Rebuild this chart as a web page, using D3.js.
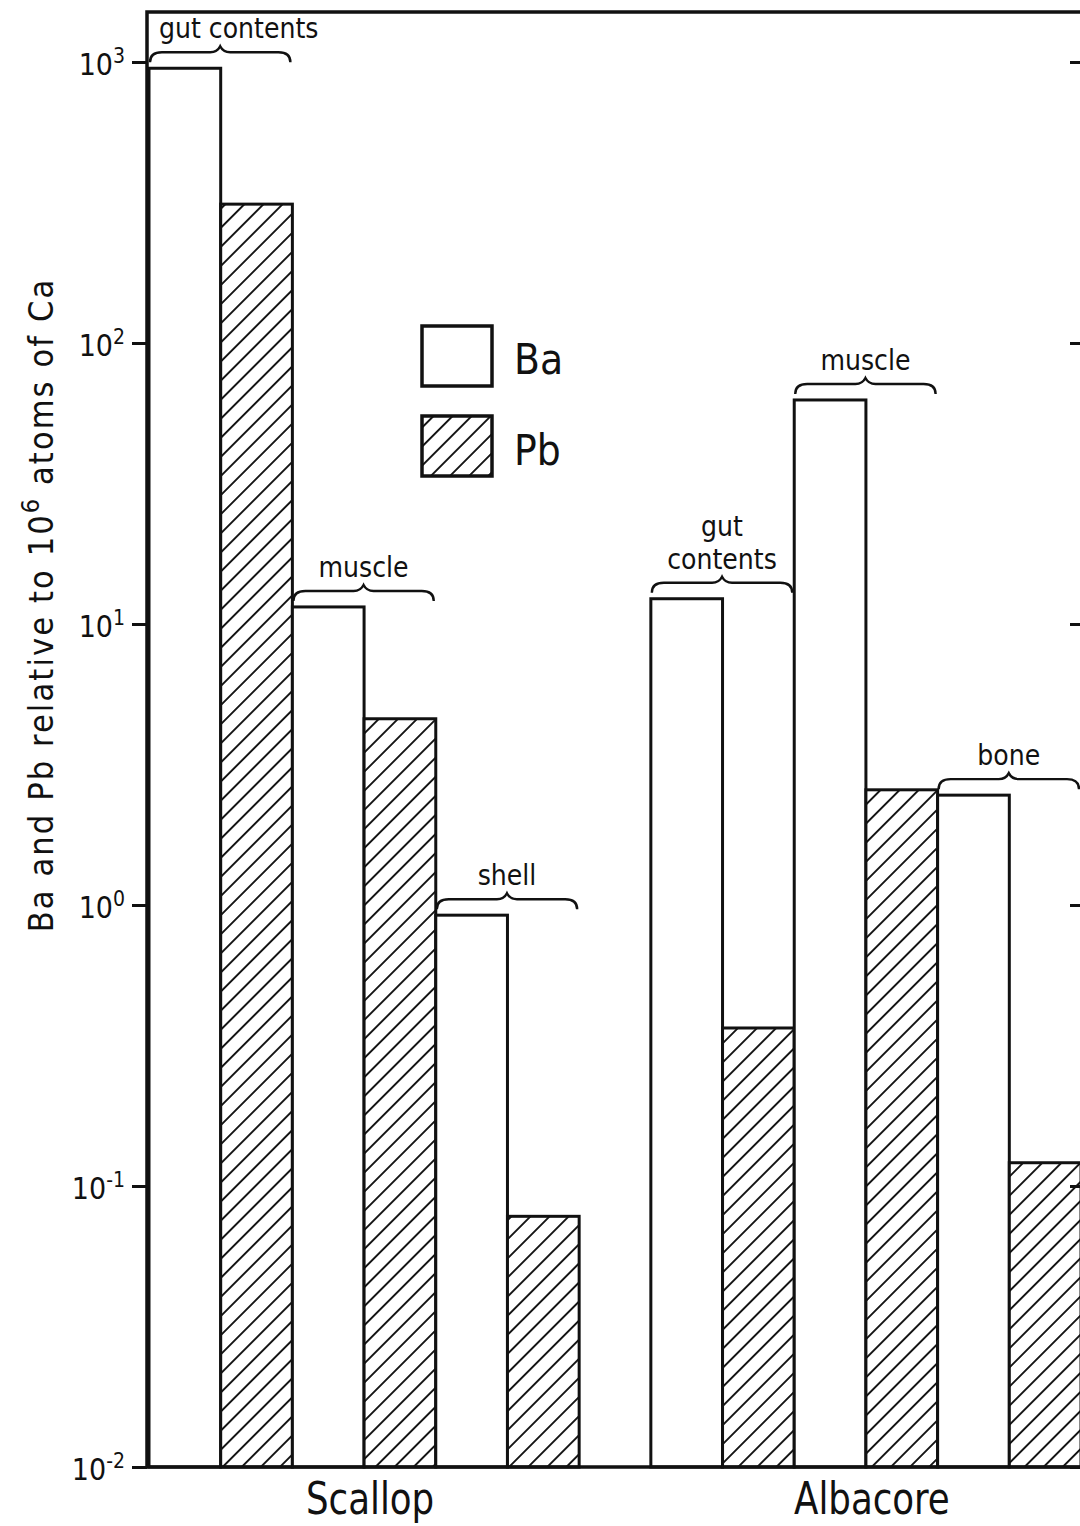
<!DOCTYPE html>
<html>
<head>
<meta charset="utf-8">
<script src="https://cdn.jsdelivr.net/npm/d3@7"></script>
<style>
  body { margin: 0; background: #fff; }
  text { font-family: "DejaVu Sans Condensed", "Liberation Sans Narrow", sans-serif; fill: #111; }
</style>
</head>
<body>
<div id="chart"></div>
<script>
const species = ['Scallop', 'Albacore'];
const tissueLabels = [
  [['gut contents'], ['muscle'], ['shell']],
  [['gut', 'contents'], ['muscle'], ['bone']]
];
const elements = ['Ba', 'Pb'];
const baValues = [[950, 11.5, 0.92], [12.3, 62.7, 2.46]];
const pbValues = [[312, 4.6, 0.078], [0.365, 2.57, 0.121]];
const yTicks = [1e-2, 1e-1, 1, 10, 100, 1000];
const yExponents = ['-2', '-1', '0', '1', '2', '3'];

const width = 1080;
const height = 1526;
const plotLeft = 147;
const plotRight = 1084;
const plotTop = 12;
const plotBottom = 1467;

const svg = d3.select('#chart').append('svg')
  .attr('width', width)
  .attr('height', height)
  .attr('viewBox', `0 0 ${width} ${height}`);

const defs = svg.append('defs');
const hatch = defs.append('pattern')
  .attr('id', 'hatch')
  .attr('patternUnits', 'userSpaceOnUse')
  .attr('width', 13.5)
  .attr('height', 13.5)
  .attr('patternTransform', 'rotate(45)');
hatch.append('rect').attr('width', 13.5).attr('height', 13.5).attr('fill', '#fff');
hatch.append('line')
  .attr('x1', 6.75).attr('y1', 0).attr('x2', 6.75).attr('y2', 13.5)
  .attr('stroke', '#111').attr('stroke-width', 1.9);

const x0 = d3.scaleBand().domain(species).range([149, 1081]).paddingInner(1 / 7).paddingOuter(0);
const x1 = d3.scaleBand().domain([0, 1, 2]).range([0, x0.bandwidth()]);
const x2 = d3.scaleBand().domain(elements).range([0, x1.bandwidth()]);
const y = d3.scaleLog().domain([0.01, 1000]).range([plotBottom, 62]);

const rows = [];
species.forEach((s, i) => {
  [0, 1, 2].forEach((j) => {
    rows.push({ s, j, e: 'Ba', v: baValues[i][j] });
    rows.push({ s, j, e: 'Pb', v: pbValues[i][j] });
  });
});

// bars
svg.append('g').selectAll('rect')
  .data(rows)
  .join('rect')
  .attr('x', (d) => x0(d.s) + x1(d.j) + x2(d.e))
  .attr('y', (d) => y(d.v))
  .attr('width', x2.bandwidth())
  .attr('height', (d) => plotBottom - y(d.v))
  .attr('fill', (d) => (d.e === 'Ba' ? '#fff' : 'url(#hatch)'))
  .attr('stroke', '#111')
  .attr('stroke-width', 3);

// braces + tissue labels
function bracePath(xa, xb, yEnd, yArm, yPeak) {
  const xm = (xa + xb) / 2;
  return `M${xa},${yEnd} Q${xa},${yArm} ${xa + 12},${yArm} L${xm - 10},${yArm} ` +
    `Q${xm - 3},${yArm} ${xm},${yPeak} Q${xm + 3},${yArm} ${xm + 10},${yArm} ` +
    `L${xb - 12},${yArm} Q${xb},${yArm} ${xb},${yEnd}`;
}

const braces = svg.append('g');
species.forEach((s, i) => {
  [0, 1, 2].forEach((j) => {
    const xa = x0(s) + x1(j) + 1;
    const xb = x0(s) + x1(j) + x1.bandwidth() - 2;
    const t = y(baValues[i][j]);
    braces.append('path')
      .attr('d', bracePath(xa, xb, t - 6, t - 16, t - 22))
      .attr('fill', 'none')
      .attr('stroke', '#111')
      .attr('stroke-width', 2.4);
    const lines = tissueLabels[i][j];
    lines.forEach((ln, k) => {
      const lab = braces.append('text')
        .attr('y', t - 30 - (lines.length - 1 - k) * 33)
        .attr('text-anchor', 'middle')
        .attr('font-size', 28)
        .text(ln);
      // keep the label clear of the axis
      const half = lab.node().getComputedTextLength() / 2;
      lab.attr('x', Math.max((xa + xb) / 2, plotLeft + 12 + half));
    });
  });
});

// frame
svg.append('path')
  .attr('d', `M${plotLeft},${plotBottom} L${plotLeft},${plotTop} L${plotRight},${plotTop} L${plotRight},${plotBottom} Z`)
  .attr('fill', 'none')
  .attr('stroke', '#111')
  .attr('stroke-width', 3.5);

// left axis
const yAxis = svg.append('g')
  .attr('transform', `translate(${plotLeft},0)`)
  .call(d3.axisLeft(y).tickValues(yTicks).tickSize(15).tickPadding(7).tickFormat(() => ''));
yAxis.select('.domain').remove();
yAxis.selectAll('.tick line').attr('stroke', '#111').attr('stroke-width', 3);
yAxis.selectAll('.tick text').each(function (d, i) {
  const t = d3.select(this)
    .attr('font-size', 30)
    .attr('dy', 12)
    .attr('fill', '#111');
  t.append('tspan').text('10');
  t.append('tspan').attr('font-size', 21).attr('dy', -12).text(yExponents[i]);
});

// right axis ticks
const yAxisR = svg.append('g')
  .attr('transform', `translate(${plotRight},0)`)
  .call(d3.axisLeft(y).tickValues(yTicks).tickSize(14).tickFormat(() => ''));
yAxisR.select('.domain').remove();
yAxisR.selectAll('.tick line').attr('stroke', '#111').attr('stroke-width', 3);

// x labels
svg.append('g').selectAll('text')
  .data(species)
  .join('text')
  .attr('transform', (d) => `translate(${x0(d) + x0.bandwidth() / 2 + 6},1514) scale(0.88,1)`)
  .attr('text-anchor', 'middle')
  .attr('font-size', 45)
  .text((d) => d);

// y title
const yTitle = svg.append('text')
  .attr('transform', 'translate(53,605) rotate(-90)')
  .attr('text-anchor', 'middle')
  .attr('font-size', 34)
  .attr('letter-spacing', 2.1);
yTitle.append('tspan').text('Ba and Pb relative to 10');
yTitle.append('tspan').attr('font-size', 25).attr('dy', -14).text('6');
yTitle.append('tspan').attr('dy', 14).text(' atoms of Ca');

// legend
const legend = svg.append('g');
elements.forEach((e, i) => {
  legend.append('rect')
    .attr('x', 422)
    .attr('y', 326 + i * 90)
    .attr('width', 70)
    .attr('height', 60)
    .attr('fill', e === 'Ba' ? '#fff' : 'url(#hatch)')
    .attr('stroke', '#111')
    .attr('stroke-width', 3.5);
  legend.append('text')
    .attr('x', 514)
    .attr('y', 374 + i * 91)
    .attr('font-size', 42)
    .text(e);
});
</script>
</body>
</html>
